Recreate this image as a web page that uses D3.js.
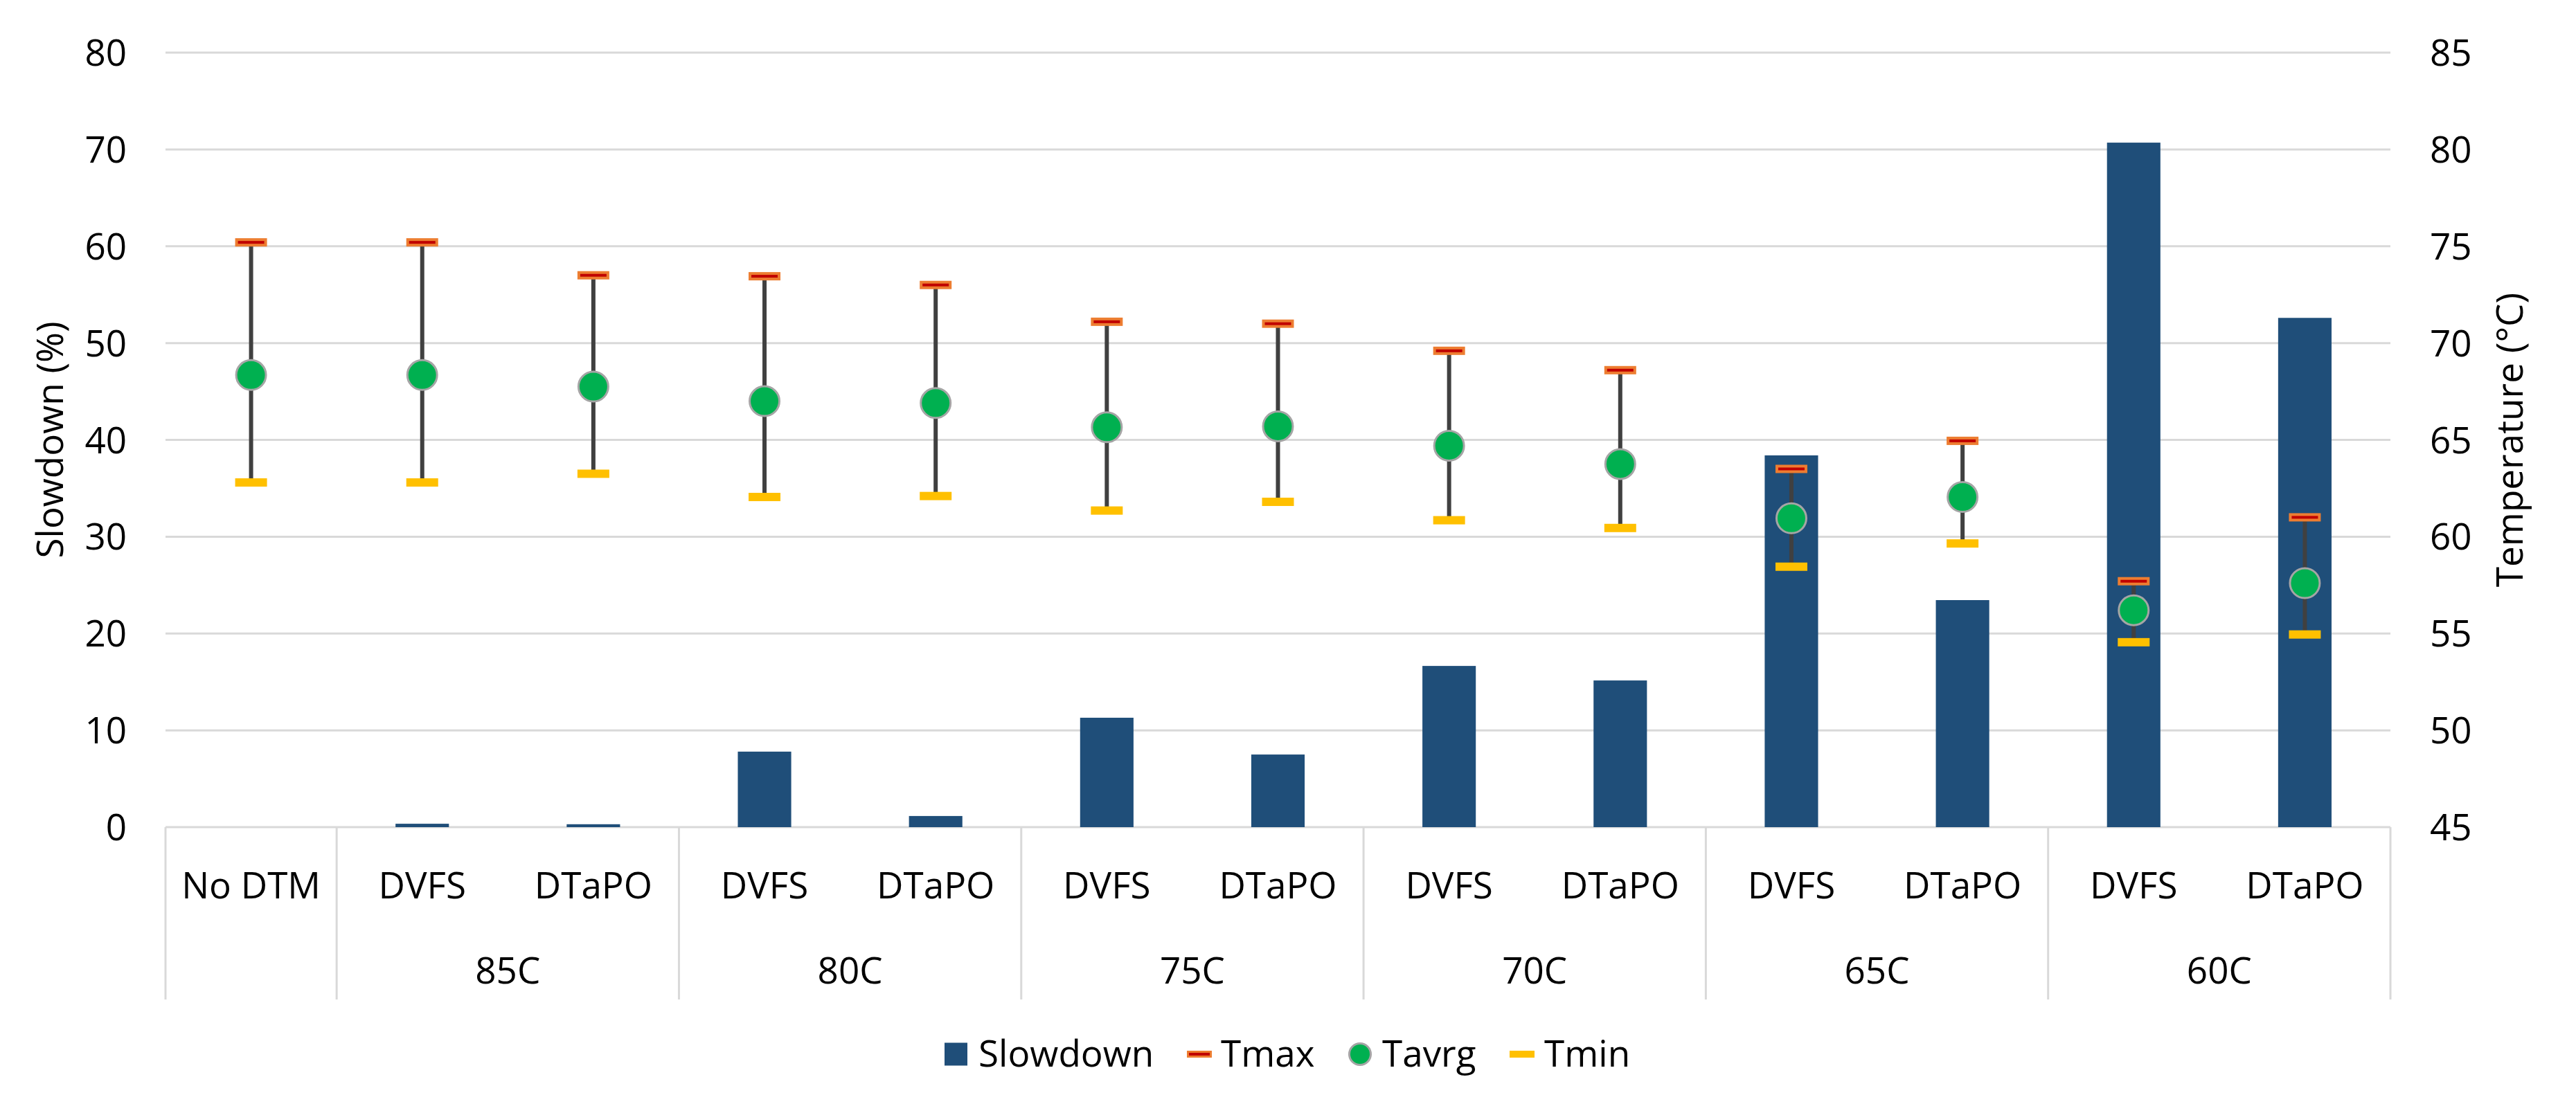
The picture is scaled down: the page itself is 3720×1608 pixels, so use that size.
<!DOCTYPE html>
<html>
<head>
<meta charset="utf-8">
<script src="https://cdn.jsdelivr.net/npm/d3@7"></script>
<style>
  html, body { margin: 0; padding: 0; background: #fff; }
  svg { display: block; }
  text { font-family: "Open Sans", "Noto Sans", sans-serif; fill: #000; }
</style>
</head>
<body>
<script>
// ---- data ----
const categories = ["No DTM", "DVFS", "DTaPO", "DVFS", "DTaPO", "DVFS", "DTaPO", "DVFS", "DTaPO", "DVFS", "DTaPO", "DVFS", "DTaPO"];
const groupLabels = ["85C", "80C", "75C", "70C", "65C", "60C"];
const slowdown = [0, 0.35, 0.3, 7.8, 1.15, 11.3, 7.5, 16.65, 15.15, 38.4, 23.45, 70.7, 52.6];
const tmax  = [75.2, 75.2, 73.5, 73.45, 73.0, 71.1, 71.0, 69.6, 68.6, 63.5, 64.95, 57.7, 61.0];
const tavrg = [68.35, 68.35, 67.75, 67.0, 66.9, 65.65, 65.7, 64.7, 63.75, 60.95, 62.05, 56.2, 57.6];
const tmin  = [62.8, 62.8, 63.25, 62.05, 62.1, 61.35, 61.8, 60.85, 60.45, 58.45, 59.65, 54.55, 54.95];
const leftTicks = [0, 10, 20, 30, 40, 50, 60, 70, 80];
const rightTicks = [45, 50, 55, 60, 65, 70, 75, 80, 85];
const seriesNames = ["Slowdown", "Tmax", "Tavrg", "Tmin"];

// ---- layout ----
const W = 3720, H = 1608;
const L = 239, R = 3452, T = 76, B = 1195;
const FS = 53;
const C = { bar: "#1F4E79", grid: "#D9D9D9", err: "#404040", tmaxFill: "#C00000", tmaxStroke: "#ED7D31",
            tavg: "#00B050", tavgStroke: "#A5A5A5", tmin: "#FFC000" };

const svg = d3.select("body").append("svg").attr("width", W).attr("height", H);

const idx = categories.map((d, i) => i);
const x = d3.scaleBand().domain(idx).range([L, R]).paddingInner(0.688).paddingOuter(0.344);
const step = x.step();
const cx = i => x(i) + x.bandwidth() / 2;
const yL = d3.scaleLinear().domain([0, 80]).range([B, T]);
const yR = d3.scaleLinear().domain([45, 85]).range([B, T]);

// gridlines
svg.append("g").selectAll("line").data(leftTicks).join("line")
  .attr("x1", L).attr("x2", R).attr("y1", d => yL(d)).attr("y2", d => yL(d))
  .attr("stroke", C.grid).attr("stroke-width", 3);

// left axis labels
const axL = d3.axisLeft(yL).tickValues(leftTicks).tickSize(0).tickPadding(0);
const gL = svg.append("g").attr("transform", `translate(183,0)`).call(axL);
gL.select(".domain").remove();
gL.selectAll("text").attr("font-size", FS).attr("font-family", "Open Sans").attr("fill", "#000").attr("dy", "0.35em");

// right axis labels
const axR = d3.axisRight(yR).tickValues(rightTicks).tickSize(0).tickPadding(0);
const gR = svg.append("g").attr("transform", `translate(3509,0)`).call(axR);
gR.select(".domain").remove();
gR.selectAll("text").attr("font-size", FS).attr("font-family", "Open Sans").attr("fill", "#000").attr("dy", "0.35em");

// axis titles
svg.append("text").attr("transform", `translate(72,${(T + B) / 2}) rotate(-90)`)
  .attr("text-anchor", "middle").attr("dy", "0.35em").attr("font-size", FS).text("Slowdown (%)");
svg.append("text").attr("transform", `translate(3624,${(T + B) / 2}) rotate(-90)`)
  .attr("text-anchor", "middle").attr("dy", "0.35em").attr("font-size", FS).text("Temperature (°C)");

// category axis separators (multi-level)
const sepIdx = [0, 1, 3, 5, 7, 9, 11, 13];
svg.append("g").selectAll("line").data(sepIdx).join("line")
  .attr("x1", d => L + d * step).attr("x2", d => L + d * step)
  .attr("y1", B).attr("y2", 1444)
  .attr("stroke", C.grid).attr("stroke-width", 3);

// inner category labels
svg.append("g").selectAll("text").data(idx).join("text")
  .attr("x", cx).attr("y", 1279).attr("dy", "0.35em").attr("text-anchor", "middle")
  .attr("font-size", FS).text(i => categories[i]);

// group labels
svg.append("g").selectAll("text").data(groupLabels).join("text")
  .attr("x", (d, g) => L + (1 + 2 * g + 1) * step).attr("y", 1402).attr("dy", "0.35em")
  .attr("text-anchor", "middle").attr("font-size", FS).text(d => d);

// bars
svg.append("g").selectAll("rect").data(idx).join("rect")
  .attr("x", i => x(i)).attr("width", x.bandwidth())
  .attr("y", i => yL(slowdown[i])).attr("height", i => yL(0) - yL(slowdown[i]))
  .attr("fill", C.bar);

// error lines (Tmin to Tmax)
svg.append("g").selectAll("line").data(idx).join("line")
  .attr("x1", cx).attr("x2", cx).attr("y1", i => yR(tmin[i])).attr("y2", i => yR(tmax[i]))
  .attr("stroke", C.err).attr("stroke-width", 6);

// Tmax markers
svg.append("g").selectAll("rect").data(idx).join("rect")
  .attr("x", i => cx(i) - 21).attr("y", i => yR(tmax[i]) - 4).attr("width", 42).attr("height", 8)
  .attr("fill", C.tmaxFill).attr("stroke", C.tmaxStroke).attr("stroke-width", 4);

// Tmin markers
svg.append("g").selectAll("rect").data(idx).join("rect")
  .attr("x", i => cx(i) - 23).attr("y", i => yR(tmin[i]) - 6).attr("width", 46).attr("height", 12)
  .attr("fill", C.tmin);

// Tavrg markers
svg.append("g").selectAll("circle").data(idx).join("circle")
  .attr("cx", cx).attr("cy", i => yR(tavrg[i])).attr("r", 21.5)
  .attr("fill", C.tavg).attr("stroke", C.tavgStroke).attr("stroke-width", 3);

// legend
const lg = svg.append("g");
const ly = 1523;
const textX = [1413, 1763, 1996, 2230];
lg.append("rect").attr("x", 1364).attr("y", ly - 16.5).attr("width", 33).attr("height", 33).attr("fill", C.bar);
lg.append("rect").attr("x", 1715.5).attr("y", ly - 3.5).attr("width", 33).attr("height", 7)
  .attr("fill", C.tmaxFill).attr("stroke", C.tmaxStroke).attr("stroke-width", 3);
lg.append("circle").attr("cx", 1964).attr("cy", ly).attr("r", 15.5)
  .attr("fill", C.tavg).attr("stroke", C.tavgStroke).attr("stroke-width", 3);
lg.append("rect").attr("x", 2180).attr("y", ly - 5).attr("width", 36).attr("height", 10).attr("fill", C.tmin);
lg.selectAll("text.lt").data(seriesNames).join("text").attr("class", "lt")
  .attr("x", (d, i) => textX[i]).attr("y", 1541).attr("font-size", FS).text(d => d);
</script>
</body>
</html>
